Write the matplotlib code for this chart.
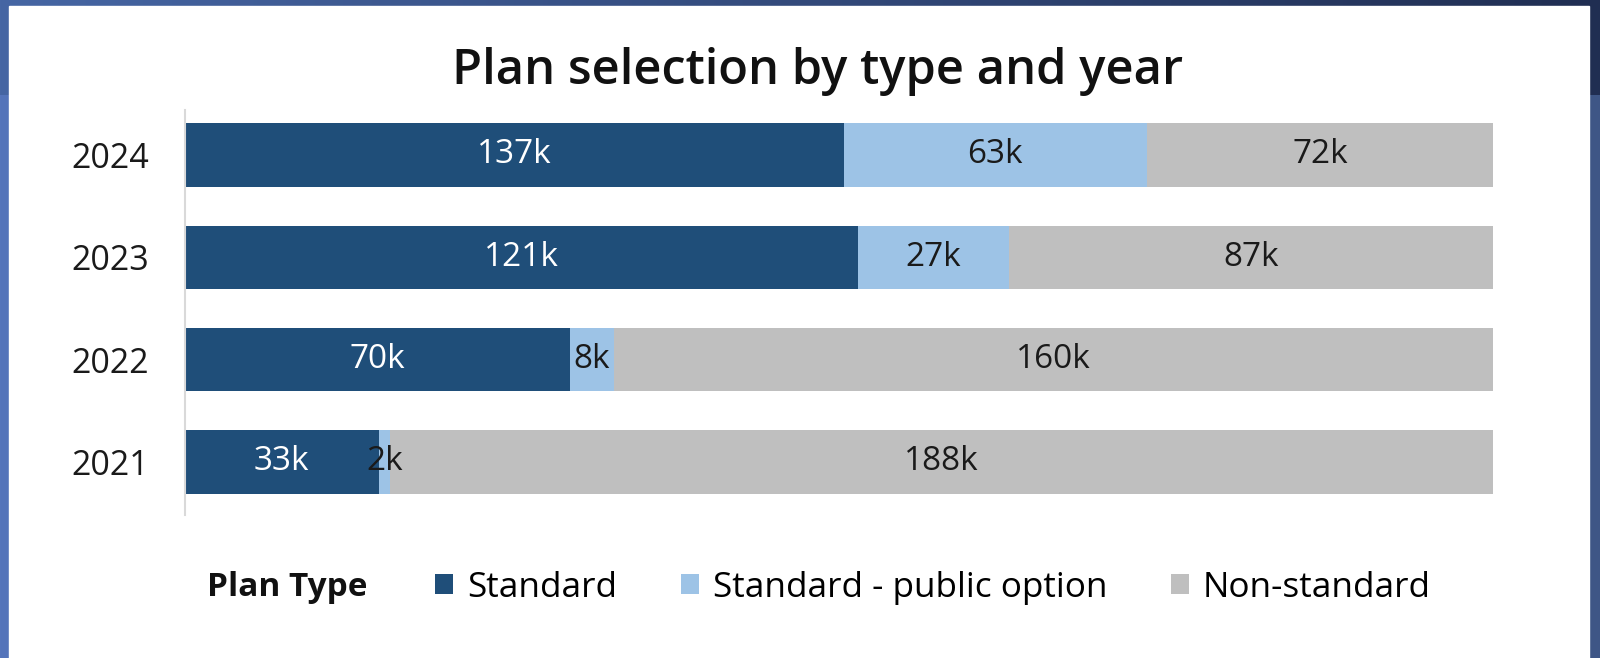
import numpy as np
import matplotlib
matplotlib.use('Agg')
import matplotlib.pyplot as plt
from matplotlib.colors import to_rgb
from matplotlib.patches import Rectangle

# data (thousands of plan selections)
years = ['2021', '2022', '2023', '2024']
standard = [33, 70, 121, 137]
public_option = [2, 8, 27, 63]
non_standard = [188, 160, 87, 72]

series_names = ['Standard', 'Standard - public option', 'Non-standard']
series_colors = ['#1f4e79', '#9dc3e6', '#bfbfbf']
label_colors = ['white', '#1a1a1a', '#1a1a1a']

plt.rcParams['font.family'] = ['Open Sans', 'DejaVu Sans']

fig = plt.figure(figsize=(16, 6.58), dpi=100)

# blue slide background behind the white card
bg = fig.add_axes([0, 0, 1, 1], zorder=-5)
bg.set_axis_off()
h, w = 658, 1600
t = np.linspace(0, 1, w)[None, :, None]
top_l, top_r = np.array(to_rgb('#4666a4')), np.array(to_rgb('#202e52'))
bot_l, bot_r = np.array(to_rgb('#5575bb')), np.array(to_rgb('#3e5686'))
img = np.zeros((h, w, 3))
img[:95] = top_l * (1 - t) + top_r * t
img[95:] = bot_l * (1 - t) + bot_r * t
bg.imshow(img, extent=[0, 1, 0, 1], aspect='auto')
bg.add_patch(Rectangle((9 / w, 0), (1589 - 9) / w, 1 - 6 / h,
                       transform=bg.transAxes, color='white'))
bg.set_xlim(0, 1)
bg.set_ylim(0, 1)

ax = fig.add_axes([185 / 1600, 1 - 515 / 658, (1493 - 185) / 1600, (515 - 110) / 658])
ax.set_facecolor('none')

values = np.array([standard, public_option, non_standard], dtype=float)
shares = values / values.sum(axis=0)
y = np.arange(len(years))
left = np.zeros(len(years))
handles = []
for i in range(3):
    bars = ax.barh(y, shares[i], left=left, height=0.62, color=series_colors[i],
                   label=series_names[i])
    handles.append(bars)
    for j in range(len(years)):
        ax.text(left[j] + shares[i][j] / 2, y[j], f'{int(values[i][j])}k',
                ha='center', va='center', fontsize=24, color=label_colors[i])
    left += shares[i]

ax.set_xlim(0, 1)
ax.set_ylim(-0.52, 3.44)
ax.set_yticks(y)
ax.set_yticklabels(years, fontsize=24.5, color='#1a1a1a')
ax.tick_params(axis='y', length=0, pad=26)
ax.set_xticks([])
for side in ['top', 'right', 'bottom']:
    ax.spines[side].set_visible(False)
ax.spines['left'].set_color('#d9d9d9')
ax.spines['left'].set_linewidth(1.5)

fig.text(0.511, 0.892, 'Plan selection by type and year', ha='center', va='center',
         fontsize=35.2, fontweight='semibold', color='#111111')

# legend row at the bottom
fig.text(207 / 1600, 0.107, 'Plan Type', ha='left', va='center',
         fontsize=24, fontweight='bold', color='#111111')
fig.legend(handles=handles, labels=series_names, ncol=3, frameon=False,
           loc='center left', bbox_to_anchor=(435 / 1600, 0.107), borderpad=0,
           borderaxespad=0, fontsize=25.3, handlelength=0.52, handleheight=0.52,
           handletextpad=0.4, columnspacing=1.8)

fig.savefig('out.png', dpi=100)
